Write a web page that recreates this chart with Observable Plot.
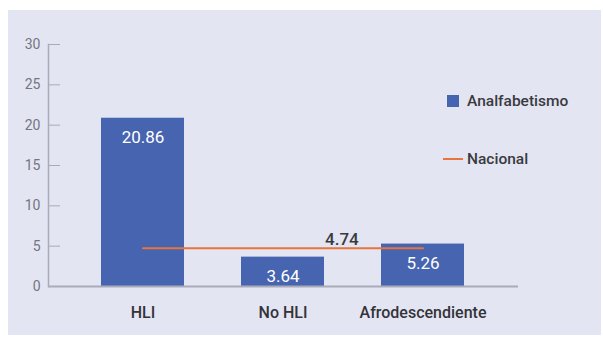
<!DOCTYPE html>
<html>
<head>
<meta charset="utf-8">
<script src="https://cdn.jsdelivr.net/npm/d3@7"></script>
<script src="https://cdn.jsdelivr.net/npm/@observablehq/plot@0.6"></script>
<style>
  html, body { margin: 0; padding: 0; background: #ffffff; }
  #wrap { position: relative; width: 603px; height: 337px; overflow: hidden; font-family: Roboto, "Open Sans", sans-serif; }
  #panel { position: absolute; left: 8px; top: 10px; width: 593px; height: 325px; background: #e3e5f3; }
  #chart { position: absolute; left: 0; top: 0; }
  #legend { position: absolute; left: 447px; top: 92px; color: #3a3a3e; font-size: 15.5px; font-weight: 500; }
  .item { position: absolute; white-space: nowrap; display: flex; align-items: center; }
  .swatch { width: 12px; height: 12px; margin-right: 8px; }
  .lineSwatch { width: 20px; height: 2px; margin-right: 4px; margin-left: -4px; }
</style>
</head>
<body>
<div id="wrap">
  <div id="panel"></div>
  <div id="chart"></div>
  <div id="legend"></div>
</div>
<script>
// Illiteracy rate (%) by population group, with the national rate as reference
const groups = ["HLI", "No HLI", "Afrodescendiente"];
const analfabetismo = [20.86, 3.64, 5.26];
const nacional = 4.74;
const yTicks = [0, 5, 10, 15, 20, 25, 30];
const seriesNames = ["Analfabetismo", "Nacional"];

const blue = "#4664b0";
const orange = "#e8743b";

const bars = groups.map((g, i) => ({group: g, value: analfabetismo[i]}));
const nationalLine = [groups[0], groups[groups.length - 1]].map(g => ({group: g, value: nacional}));

const chart = Plot.plot({
  width: 603,
  height: 337,
  marginLeft: 48,
  marginRight: 85,
  marginTop: 44,
  marginBottom: 51,
  style: {background: "transparent", fontFamily: "Roboto, 'Open Sans', sans-serif"},
  x: {domain: groups, paddingInner: 0.404, paddingOuter: 0.369, label: null},
  y: {domain: [0, 30], label: null},
  marks: [
    // tick labels
    Plot.axisY({ticks: yTicks, tickSize: 0, tickPadding: 8, fontSize: 14, color: "#74757f", label: null}),
    // short inward tick marks
    Plot.axisY({ticks: yTicks, tickSize: -12, stroke: "#a9abb8", tickFormat: () => "", label: null}),
    Plot.frame({anchor: "left", stroke: "#a9abb8", strokeWidth: 1.5}),
    Plot.barY(bars, {x: "group", y: "value", fill: blue}),
    Plot.ruleY([0], {stroke: "#a9abb8", strokeWidth: 2}),
    Plot.axisX({tickSize: 0, tickPadding: 20, fontSize: 16, fontWeight: 500, fill: "#333338", label: null}),
    Plot.text(bars, {x: "group", y: "value", text: d => d.value.toFixed(2), dy: 19, lineAnchor: "middle", fill: "#ffffff", fontSize: 17}),
    Plot.line(nationalLine, {x: "group", y: "value", stroke: orange, strokeWidth: 2}),
    Plot.text([nacional], {x: () => groups[1], y: d => d, text: d => d.toFixed(2), textAnchor: "start", dx: 42, dy: -3, lineAnchor: "bottom", fill: "#3a3a3e", fontSize: 17, fontWeight: 500})
  ]
});
document.getElementById("chart").appendChild(chart);

// Legend on the right of the plotting area
const legend = document.getElementById("legend");
seriesNames.forEach((name, i) => {
  const item = document.createElement("div");
  item.className = "item";
  item.style.top = (i * 58) + "px";
  const sw = document.createElement("span");
  if (i === 0) { sw.className = "swatch"; sw.style.background = blue; }
  else { sw.className = "lineSwatch"; sw.style.background = orange; }
  item.appendChild(sw);
  item.appendChild(document.createTextNode(name));
  legend.appendChild(item);
});
</script>
</body>
</html>
